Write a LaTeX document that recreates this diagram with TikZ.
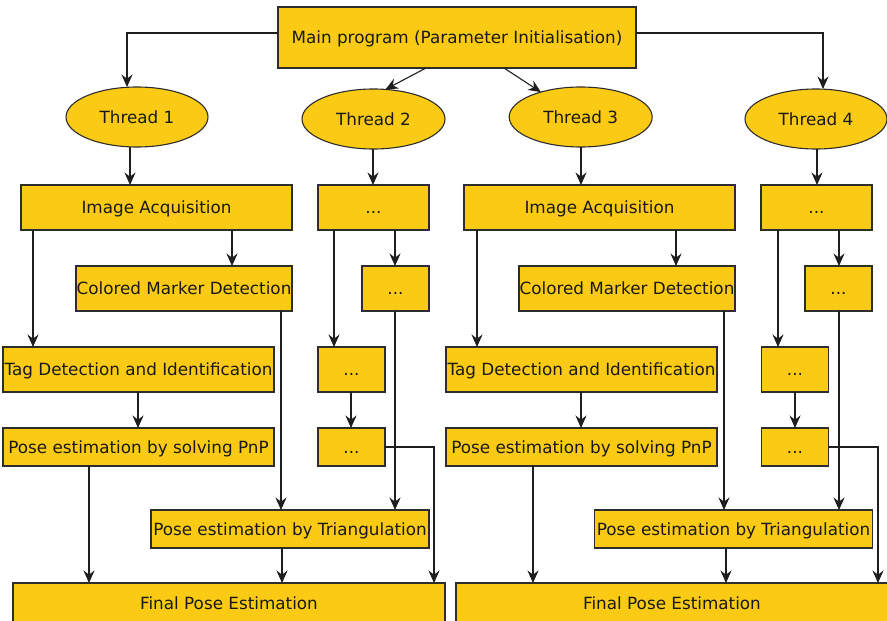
\documentclass[tikz,border=0pt]{standalone}
\usepackage{fontspec}
\setmainfont{DejaVu Sans}
\usetikzlibrary{shapes.geometric,arrows.meta}
\definecolor{boxfill}{RGB}{250,202,20}
\definecolor{boxline}{RGB}{45,45,45}
\definecolor{conline}{RGB}{30,30,30}
\tikzset{
  txt/.style={font=\fontsize{16.8}{19}\selectfont, text=black!90, text height=12.2pt, text depth=0pt},
  blk/.style={txt, draw=boxline, fill=boxfill, line width=1.1pt, inner sep=0pt, outer sep=0pt, anchor=north west},
  thr/.style={txt, ellipse, draw=boxline, fill=boxfill, line width=1.1pt, inner sep=0pt, outer sep=0pt, minimum width=142pt, minimum height=60pt},
  arr/.style={draw=conline, line width=1.1pt, -{Stealth[length=12.5pt,width=11pt,inset=4.2pt]}},
  wide/.style={minimum width=271pt},
  tall/.style={minimum height=45pt},
  low/.style={minimum height=38pt},
}
\begin{document}
\begin{tikzpicture}[x=1pt,y=-1pt]
\useasboundingbox (0,0) rectangle (887,621);
\clip (0,0) rectangle (887,621);

% main and threads
\node[blk, minimum width=358pt, minimum height=61pt] (main) at (278,7) {Main program (Parameter Initialisation)};
\node[thr] (t1) at (137,117) {Thread 1};
\node[thr, minimum width=143pt] (t2) at (373.5,119) {Thread 2};
\node[thr, minimum width=143pt] (t3) at (580.7,117) {Thread 3};
\node[thr] (t4) at (816,119) {Thread 4};

% left group
\node[blk, wide, tall] (ia1) at (21,185) {Image Acquisition};
\node[blk, minimum width=111pt, tall] (b2a) at (318,185) {...};
\node[blk, minimum width=216pt, tall] (cmd1) at (76,266) {Colored Marker Detection};
\node[blk, minimum width=67pt, tall] (b2b) at (362,266) {...};
\node[blk, wide, tall] (td1) at (3,347) {Tag Detection and Identification};
\node[blk, wide, low] (pnp1) at (3,428) {Pose estimation by solving PnP};
\node[blk, minimum width=67pt, tall] (b2c) at (318,347) {...};
\node[blk, minimum width=67pt, low] (b2d) at (318,428) {...};
\node[blk, minimum width=278pt, low] (tri1) at (151,510) {Pose estimation by Triangulation};
\node[blk, minimum width=432pt, minimum height=40pt] (fin1) at (13,583) {Final Pose Estimation};

% right group
\node[blk, wide, tall] (ia3) at (464,185) {Image Acquisition};
\node[blk, minimum width=111pt, tall] (b4a) at (761,185) {...};
\node[blk, minimum width=216pt, tall] (cmd3) at (519,266) {Colored Marker Detection};
\node[blk, minimum width=67pt, tall] (b4b) at (805,266) {...};
\node[blk, wide, tall] (td3) at (446,347) {Tag Detection and Identification};
\node[blk, wide, low] (pnp3) at (446,428) {Pose estimation by solving PnP};
\node[blk, minimum width=67pt, tall] (b4c) at (761.5,347) {...};
\node[blk, minimum width=67pt, low] (b4d) at (761.5,428) {...};
\node[blk, minimum width=278pt, low] (tri3) at (594.5,510) {Pose estimation by Triangulation};
\node[blk, minimum width=432pt, minimum height=40pt] (fin3) at (456,583) {Final Pose Estimation};

% main -> threads
\draw[arr] (main.west |- 0,33) -| (t1.north -| 127,0);
\draw[arr] (main.south -| 426,0) -- (t2.68);
\draw[arr] (main.south -| 504,0) -- (t3.148);
\draw[arr] (main.east |- 0,33) -| (t4.north -| 823,0);

% threads -> first boxes
\draw[arr] (t1.south -| 130,0) -- (ia1.north -| 130,0);
\draw[arr] (t2.south -| 373,0) -- (b2a.north -| 373,0);
\draw[arr] (t3.south -| 581,0) -- (ia3.north -| 581,0);
\draw[arr] (t4.south -| 817,0) -- (b4a.north -| 817,0);

% left group connectors
\draw[arr] (ia1.south -| 232,0) -- (cmd1.north -| 232,0);
\draw[arr] (ia1.south -| 33,0) -- (td1.north -| 33,0);
\draw[arr] (b2a.south -| 395,0) -- (b2b.north -| 395,0);
\draw[arr] (b2a.south -| 334,0) -- (b2c.north -| 334,0);
\draw[arr] (td1.south -| 138,0) -- (pnp1.north -| 138,0);
\draw[arr] (b2c.south -| 351,0) -- (b2d.north -| 351,0);
\draw[arr] (cmd1.south -| 281,0) -- (tri1.north -| 281,0);
\draw[arr] (b2b.south -| 395,0) -- (tri1.north -| 395,0);
\draw[arr] (b2d.east) -| (fin1.north -| 434,0);
\draw[arr] (pnp1.south -| 89,0) -- (fin1.north -| 89,0);
\draw[arr] (tri1.south -| 282,0) -- (fin1.north -| 282,0);

% right group connectors
\draw[arr] (ia3.south -| 676,0) -- (cmd3.north -| 676,0);
\draw[arr] (ia3.south -| 477,0) -- (td3.north -| 477,0);
\draw[arr] (b4a.south -| 839,0) -- (b4b.north -| 839,0);
\draw[arr] (b4a.south -| 778,0) -- (b4c.north -| 778,0);
\draw[arr] (td3.south -| 581,0) -- (pnp3.north -| 581,0);
\draw[arr] (b4c.south -| 795,0) -- (b4d.north -| 795,0);
\draw[arr] (cmd3.south -| 724,0) -- (tri3.north -| 724,0);
\draw[arr] (b4b.south -| 839,0) -- (tri3.north -| 839,0);
\draw[arr] (b4d.east) -| (fin3.north -| 878,0);
\draw[arr] (pnp3.south -| 533,0) -- (fin3.north -| 533,0);
\draw[arr] (tri3.south -| 726,0) -- (fin3.north -| 726,0);
\end{tikzpicture}
\end{document}
